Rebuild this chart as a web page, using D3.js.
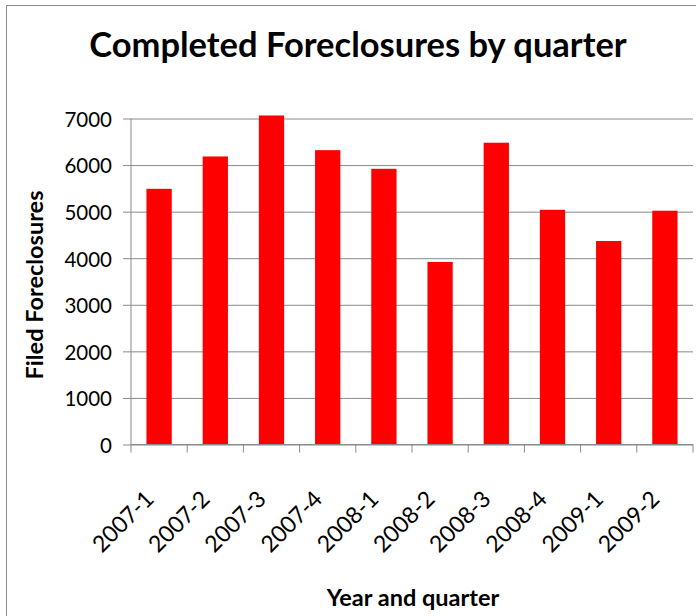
<!DOCTYPE html>
<html>
<head>
<meta charset="utf-8">
<script src="https://cdn.jsdelivr.net/npm/d3@7"></script>
<style>
  html, body { margin: 0; padding: 0; background: #fff; }
  svg { display: block; }
</style>
</head>
<body>
<svg id="chart" width="696" height="616"></svg>
<script>
// Completed foreclosures per quarter
const quarters = ["2007-1", "2007-2", "2007-3", "2007-4", "2008-1", "2008-2", "2008-3", "2008-4", "2009-1", "2009-2"];
const foreclosures = [5490, 6185, 7065, 6320, 5920, 3920, 6480, 5040, 4370, 5020];
const yTicks = [0, 1000, 2000, 3000, 4000, 5000, 6000, 7000];

const titleText = "Completed Foreclosures by quarter";
const yTitle = "Filed Foreclosures";
const xTitle = "Year and quarter";

const svg = d3.select("#chart");
const W = 696, H = 616;
const plot = { left: 131, right: 693, top: 118.5, bottom: 444.5 };
const font = "Lato, 'Open Sans', 'DejaVu Sans', sans-serif";

// outer chart frame
svg.append("rect")
  .attr("x", 6.5).attr("y", 5.5)
  .attr("width", W).attr("height", H)
  .attr("fill", "#fff").attr("stroke", "#8c8c8c").attr("stroke-width", 1);

const x = d3.scaleBand().domain(quarters).range([plot.left, plot.right]).paddingInner(0.55).paddingOuter(0.275);
const y = d3.scaleLinear().domain([0, 7000]).range([plot.bottom, plot.top]);

// horizontal gridlines with short ticks left of the axis
const yAxis = d3.axisLeft(y).tickValues(yTicks).tickSize(-(plot.right - plot.left)).tickPadding(19).tickFormat(d3.format("d"));
const gy = svg.append("g").attr("transform", `translate(${plot.left},0)`).call(yAxis);
gy.select(".domain").remove();
gy.selectAll(".tick line").attr("stroke", "#8a8a8a").attr("x1", -8);
gy.selectAll(".tick text")
  .attr("font-family", font).attr("font-size", 20.5).attr("fill", "#000").attr("dy", "0.38em");

// bars
svg.append("g").selectAll("rect")
  .data(quarters)
  .join("rect")
  .attr("x", d => x(d))
  .attr("width", x.bandwidth())
  .attr("y", (d, i) => y(foreclosures[i]))
  .attr("height", (d, i) => y(0) - y(foreclosures[i]))
  .attr("fill", "#ff0000");

// axis lines
svg.append("line")
  .attr("x1", plot.left).attr("x2", plot.left)
  .attr("y1", plot.top).attr("y2", plot.bottom)
  .attr("stroke", "#8a8a8a");
svg.append("line")
  .attr("x1", plot.left).attr("x2", plot.right)
  .attr("y1", plot.bottom).attr("y2", plot.bottom)
  .attr("stroke", "#8a8a8a");

// category separator ticks below the x axis
const bounds = d3.range(quarters.length + 1).map(i => plot.left + i * (plot.right - plot.left) / quarters.length);
svg.append("g").selectAll("line")
  .data(bounds)
  .join("line")
  .attr("x1", d => d).attr("x2", d => d)
  .attr("y1", plot.bottom).attr("y2", plot.bottom + 8)
  .attr("stroke", "#8a8a8a");

// rotated category labels
svg.append("g").selectAll("text")
  .data(quarters)
  .join("text")
  .attr("transform", d => `translate(${x(d) + x.bandwidth() / 2 - 4},${plot.bottom + 56}) rotate(-45)`)
  .attr("text-anchor", "end")
  .attr("font-family", font).attr("font-size", 23).attr("fill", "#000")
  .text(d => d);

// titles
svg.append("text")
  .attr("x", 358).attr("y", 57)
  .attr("text-anchor", "middle")
  .attr("font-family", font).attr("font-weight", "bold").attr("font-size", 34.5)
  .text(titleText);

svg.append("text")
  .attr("transform", `translate(43,285) rotate(-90)`)
  .attr("text-anchor", "middle")
  .attr("font-family", font).attr("font-weight", "bold").attr("font-size", 23.5)
  .text(yTitle);

svg.append("text")
  .attr("x", 413).attr("y", 606)
  .attr("text-anchor", "middle")
  .attr("font-family", font).attr("font-weight", "bold").attr("font-size", 23.5)
  .text(xTitle);
</script>
</body>
</html>
